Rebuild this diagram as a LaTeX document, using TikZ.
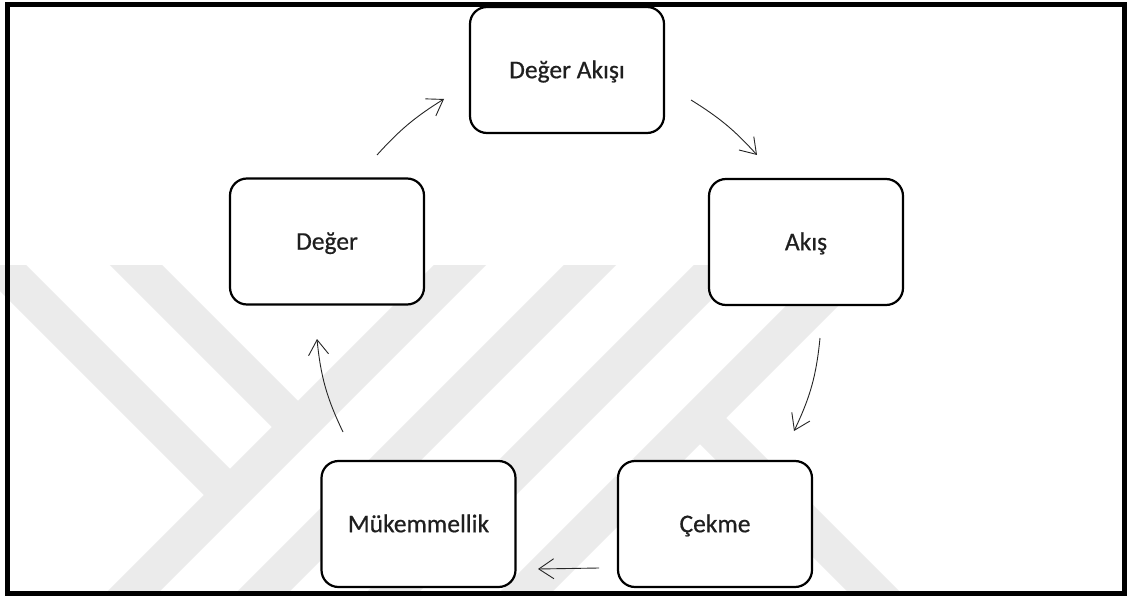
\documentclass[tikz,border=0pt]{standalone}
\usepackage{fontspec}
\setmainfont{Carlito}
\newfontfamily\boxfont{Carlito}[FakeBold=0.6]
\usetikzlibrary{arrows.meta}
\begin{document}
\begin{tikzpicture}[x=1pt,y=-1pt,
  box/.style={draw=black, line width=2.2pt, rounded corners=17pt, fill=white,
    minimum width=194pt, minimum height=126pt, inner sep=0pt,
    font=\boxfont\fontsize{25.5}{30}\selectfont, text=black!88,
    text height=21.5pt, text depth=5.1pt},
  arr/.style={draw=black!85, line width=0.9pt,
    -{Straight Barb[length=15pt,width=20pt,line width=0.9pt]}},
  wm/.style={draw=black!8, line width=37pt, line cap=butt},
  frame/.style={draw=black, line width=5pt}
]
\useasboundingbox (0,0) rectangle (1127,596);
\fill[white] (0,0) rectangle (1127,596);

% watermark stripes
\begin{scope}
  \clip (0,265) rectangle (1127,596);
  \draw[wm] (-40,225) -- (230,495);
  \draw[wm] (96,225) -- (298,427);
  \draw[wm] (500,225) -- (85,640);
  \draw[wm] (630,225) -- (215,640);
  \draw[wm] (760,225) -- (345,640);
  \draw[wm] (893,225) -- (478,640);
  \draw[wm] (700,418) -- (922,640);
\end{scope}

% boxes
\node[box] (da) at (567,70) {Değer Akışı};
\node[box] (d) at (327,241.5) {Değer};
\node[box] (a) at (806,242) {Akış};
\node[box] (m) at (418.5,524) {Mükemmellik};
\node[box] (c) at (715,524) {Çekme};

% arrow end points
\coordinate (a1s) at (377,155);
\coordinate (a1e) at (444,99);
\coordinate (a2s) at (691,100);
\coordinate (a2e) at (757,155);
\coordinate (a3s) at (820,338);
\coordinate (a3e) at (794,431);
\coordinate (a4s) at (599,568);
\coordinate (a4e) at (538,569);
\coordinate (a5s) at (343,432);
\coordinate (a5e) at (317,339);

\draw[arr] (a1s) to[bend left=8] (a1e);
\draw[arr] (a2s) to[bend left=8] (a2e);
\draw[arr] (a3s) to[bend left=10] (a3e);
\draw[arr] (a4s) -- (a4e);
\draw[arr] (a5s) to[bend left=10] (a5e);

% outer frame
\draw[frame] (7.5,4.5) rectangle (1124.5,593.5);
\end{tikzpicture}
\end{document}
